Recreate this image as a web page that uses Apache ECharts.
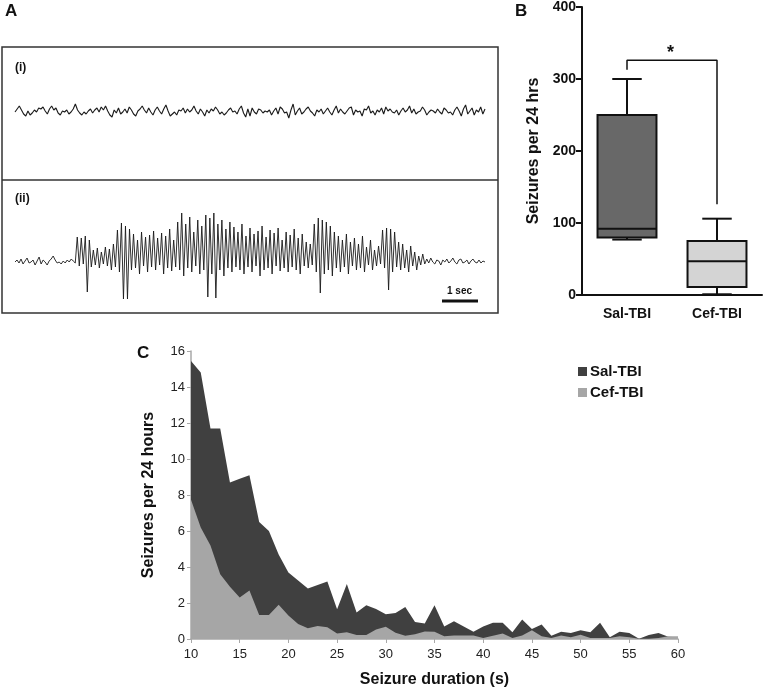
<!DOCTYPE html>
<html><head><meta charset="utf-8">
<script src="https://cdn.jsdelivr.net/npm/echarts@6/dist/echarts.min.js"></script>
<style>html,body{margin:0;padding:0;background:#fff}#c{width:763px;height:689px}</style>
</head><body><div id="c"></div>
<script>
// Panel A: EEG traces (vertical offset in px-like units)
const traceBaseline = [0,3,6,2,-2,-4,1,-3,-1,2,0,4,3,5,1,-2,3,6,2,4,-1,-3,1,0,2,-2,0,3,8,2,-1,-3,0,-2,1,3,-1,2,4,0,5,2,6,1,-3,-5,2,-1,4,-2,0,3,-1,5,2,-2,-4,1,3,6,2,-1,4,0,-3,2,5,1,-2,3,7,1,-4,-2,0,-3,2,1,4,-1,3,0,2,6,1,-2,3,0,-4,2,-1,3,1,5,2,-2,0,-3,-1,2,4,0,1,-2,3,6,-1,-5,3,-4,4,0,-2,3,2,-1,1,0,2,-3,1,4,-2,5,3,-1,0,-6,2,8,-3,1,4,-2,0,3,5,1,-1,-4,2,0,3,-2,1,4,0,-3,2,6,-1,3,0,-2,1,4,5,-3,2,0,1,-4,3,2,6,-1,1,-3,2,0,4,-2,5,1,3,0,-1,2,-3,1,4,0,2,6,-1,3,-2,0,1,5,2,-3,0,2,1,-1,3,0,-2,4,2,-1,0,-3,2,5,1,-4,3,7,-2,1,4,-3,2,0,5,-2,3];
const traceSeizure = [0,2,-1,3,-2,1,4,-1,0,2,-3,1,5,-2,2,0,-3,1,3,6,2,-1,0,-2,1,-1,2,0,3,1,-1,
 25,-4,24,-2,26,-30,22,-5,
 12,-3,14,-6,10,-2,15,-4,13,-8,18,-5,
 32,-10,39,-37,36,-37,33,-8,
 28,-6,22,-12,30,-4,25,-10,27,-5,31,-8,24,-3,29,-12,26,-6,33,-9,22,-5,
 40,-8,49,-14,38,-6,45,-10,30,-4,42,-12,36,-8,47,-35,44,-12,49,-36,38,-8,42,-14,33,-6,40,-10,35,-5,
 30,-8,38,-12,26,-5,34,-10,28,-4,31,-14,36,-8,25,-6,32,-12,29,-4,34,-9,22,-6,30,-10,27,-5,33,-8,24,-12,28,-4,20,-6,18,-3,
 38,-10,44,-31,42,-12,40,-8,36,-14,30,-6,
 26,-10,22,-5,28,-12,20,-4,24,-8,18,-6,26,-10,15,-3,22,-8,12,-4,16,-2,
 32,-6,34,-28,33,-10,30,-5,20,-8,
 18,-6,12,-10,16,-4,10,-8,6,-3,8,
 -2,3,-1,4,0,-2,2,1,-3,2,0,3,-1,1,4,0,-2,2,3,-1,0,2,-2,1,3,0,-1,2,-1,1,0];

// Panel B: box plot [min, Q1, median, Q3, max]
const boxCategories = ['Sal-TBI','Cef-TBI'];
const boxSal = [77,80,92,250,300];
const boxCef = [1,11,47,75,106];
const boxColors = ['#686868','#d4d4d4'];
const boxBracket = [313,326,326,126];

// Panel C: seizure duration distribution
const durations = [10,11,12,13,14,15,16,17,18,19,20,21,22,23,24,25,26,27,28,29,30,31,32,33,34,35,36,37,38,39,40,41,42,43,44,45,46,47,48,49,50,51,52,53,54,55,56,57,58,59,60];
const salTBI = [15.45,14.8,11.7,11.7,8.7,8.9,9.1,6.5,6.0,4.7,3.7,3.25,2.8,3.0,3.2,1.65,3.05,1.47,1.87,1.67,1.38,1.45,1.78,0.95,0.86,1.87,0.7,0.99,0.7,0.4,0.7,0.9,0.9,0.37,1.08,0.55,0.8,0.18,0.4,0.33,0.48,0.38,0.9,0.1,0.4,0.33,0.02,0.22,0.33,0.12,0.1];
const cefTBI = [7.74,6.2,5.2,3.6,2.9,2.3,2.7,1.34,1.34,1.9,1.3,0.83,0.6,0.72,0.65,0.3,0.38,0.22,0.22,0.53,0.68,0.35,0.18,0.27,0.42,0.4,0.15,0.2,0.2,0.2,0.05,0.18,0.3,0.05,0.2,0.48,0.15,0.05,0.2,0.1,0.24,0.05,0.05,0.05,0.15,0.1,0.02,0.02,0.05,0.15,0.15];

const F = 'Liberation Sans, Arial, sans-serif';
const chart = echarts.init(document.getElementById('c'), null, {renderer:'canvas'});
const hiddenVal = (extra) => Object.assign({type:'value', show:false, axisLine:{show:false}, splitLine:{show:false}, axisTick:{show:false}, axisLabel:{show:false}}, extra);

function renderBox(params, api){
  const ci = api.value(0);
  const vals = [api.value(1), api.value(2), api.value(3), api.value(4), api.value(5)];
  const pts = vals.map(v => api.coord([ci, v]));
  const x = pts[0][0];
  const bw = api.size([1, 0])[0] * 0.655;
  const hb = bw / 2, hc = bw / 4;
  const ls = {stroke:'#111', lineWidth:2};
  return {type:'group', children:[
    {type:'line', shape:{x1:x, y1:pts[4][1], x2:x, y2:pts[3][1]}, style:ls},
    {type:'line', shape:{x1:x, y1:pts[1][1], x2:x, y2:pts[0][1]}, style:ls},
    {type:'line', shape:{x1:x-hc, y1:pts[4][1], x2:x+hc, y2:pts[4][1]}, style:ls},
    {type:'line', shape:{x1:x-hc, y1:pts[0][1], x2:x+hc, y2:pts[0][1]}, style:ls},
    {type:'rect', shape:{x:x-hb, y:pts[3][1], width:bw, height:pts[1][1]-pts[3][1]}, style:{fill:boxColors[ci], stroke:'#111', lineWidth:2}},
    {type:'line', shape:{x1:x-hb, y1:pts[2][1], x2:x+hb, y2:pts[2][1]}, style:ls}
  ]};
}

const option = {
  animation:false,
  backgroundColor:'#fff',
  textStyle:{fontFamily:F},
  grid:[
    {left:15, width:470, top:92, height:40},
    {left:15, width:470, top:205, height:100},
    {left:582, width:180, top:7, height:288},
    {left:191, right:85, top:351, bottom:47}
  ],
  xAxis:[
    hiddenVal({gridIndex:0, min:0, max:traceBaseline.length-1}),
    hiddenVal({gridIndex:1, min:0, max:traceSeizure.length-1}),
    {type:'category', gridIndex:2, data:boxCategories,
     axisLine:{lineStyle:{color:'#111', width:2}},
     axisTick:{alignWithLabel:true, length:6, lineStyle:{color:'#111', width:2}},
     axisLabel:{color:'#111', fontSize:14, fontWeight:'bold', fontFamily:F, margin:12}},
    {type:'value', gridIndex:3, min:10, max:60, interval:5,
     name:'Seizure duration (s)', nameLocation:'middle', nameGap:33,
     nameTextStyle:{color:'#111', fontSize:16, fontWeight:'bold', fontFamily:F},
     axisLine:{lineStyle:{color:'#a8a8a8', width:1.5}},
     axisTick:{length:4, lineStyle:{color:'#a8a8a8'}},
     splitLine:{show:false},
     axisLabel:{color:'#222', fontSize:13, fontFamily:F, margin:9}}
  ],
  yAxis:[
    hiddenVal({gridIndex:0, min:-20, max:20}),
    hiddenVal({gridIndex:1, min:-43, max:57}),
    {type:'value', gridIndex:2, min:0, max:400, interval:100,
     name:'Seizures per 24 hrs', nameLocation:'middle', nameGap:40,
     nameTextStyle:{color:'#111', fontSize:16, fontWeight:'bold', fontFamily:F},
     axisLine:{show:true, lineStyle:{color:'#111', width:2}},
     axisTick:{show:true, length:6, lineStyle:{color:'#111', width:2}},
     splitLine:{show:false},
     axisLabel:{color:'#111', fontSize:14, fontWeight:'bold', fontFamily:F, margin:6}},
    {type:'value', gridIndex:3, min:0, max:16, interval:2,
     name:'Seizures per 24 hours', nameLocation:'middle', nameGap:34,
     nameTextStyle:{color:'#111', fontSize:16, fontWeight:'bold', fontFamily:F},
     axisLine:{show:true, lineStyle:{color:'#a8a8a8', width:1.5}},
     axisTick:{show:true, length:4, lineStyle:{color:'#a8a8a8'}},
     splitLine:{show:false},
     axisLabel:{color:'#222', fontSize:13, fontFamily:F, margin:6}}
  ],
  legend:{
    left:573, top:359, orient:'vertical', itemWidth:9, itemHeight:9, itemGap:6, icon:'rect',
    data:['Sal-TBI','Cef-TBI'],
    textStyle:{color:'#111', fontSize:15, fontWeight:'bold', fontFamily:F, padding:[0,0,0,-2]}
  },
  series:[
    {type:'line', xAxisIndex:0, yAxisIndex:0, data:traceBaseline.map((v,i)=>[i,v]), symbol:'none', lineStyle:{color:'#1a1a1a', width:1.1}},
    {type:'line', xAxisIndex:1, yAxisIndex:1, data:traceSeizure.map((v,i)=>[i,v]), symbol:'none', lineStyle:{color:'#1a1a1a', width:0.9}},
    {type:'custom', name:'box', xAxisIndex:2, yAxisIndex:2, renderItem:renderBox,
     encode:{x:0, y:[1,2,3,4,5]},
     data:[[0].concat(boxSal), [1].concat(boxCef)]},
    {type:'line', xAxisIndex:2, yAxisIndex:2, symbol:'none', silent:true,
     data:[[boxCategories[0],boxBracket[0]],[boxCategories[0],boxBracket[1]],[boxCategories[1],boxBracket[2]],[boxCategories[1],boxBracket[3]]],
     lineStyle:{color:'#111', width:1.5}},
    {type:'line', name:'Sal-TBI', xAxisIndex:3, yAxisIndex:3, symbol:'none', z:2,
     data:durations.map((d,i)=>[d,salTBI[i]]),
     lineStyle:{width:0}, itemStyle:{color:'#404040'}, areaStyle:{color:'#404040', opacity:1}},
    {type:'line', name:'Cef-TBI', xAxisIndex:3, yAxisIndex:3, symbol:'none', z:3,
     data:durations.map((d,i)=>[d,cefTBI[i]]),
     lineStyle:{width:0}, itemStyle:{color:'#a6a6a6'}, areaStyle:{color:'#a6a6a6', opacity:1}}
  ],
  graphic:[
    {type:'rect', shape:{x:2, y:47, width:496, height:266}, style:{fill:'none', stroke:'#333', lineWidth:1.5}},
    {type:'line', shape:{x1:2, y1:180, x2:498, y2:180}, style:{stroke:'#333', lineWidth:1.5}},
    {type:'text', left:5, top:3, style:{text:'A', font:'bold 17px '+F, fill:'#111'}},
    {type:'text', left:515, top:3, style:{text:'B', font:'bold 17px '+F, fill:'#111'}},
    {type:'text', left:137, top:345, style:{text:'C', font:'bold 17px '+F, fill:'#111'}},
    {type:'text', left:15, top:62, style:{text:'(i)', font:'bold 12px '+F, fill:'#111'}},
    {type:'text', left:15, top:193, style:{text:'(ii)', font:'bold 12px '+F, fill:'#111'}},
    {type:'text', left:447, top:286, style:{text:'1 sec', font:'bold 10px '+F, fill:'#111'}},
    {type:'line', shape:{x1:442, y1:301, x2:478, y2:301}, style:{stroke:'#111', lineWidth:3}},
    {type:'text', left:667, top:44, style:{text:'*', font:'bold 18px '+F, fill:'#111'}}
  ]
};
chart.setOption(option);
</script></body></html>
